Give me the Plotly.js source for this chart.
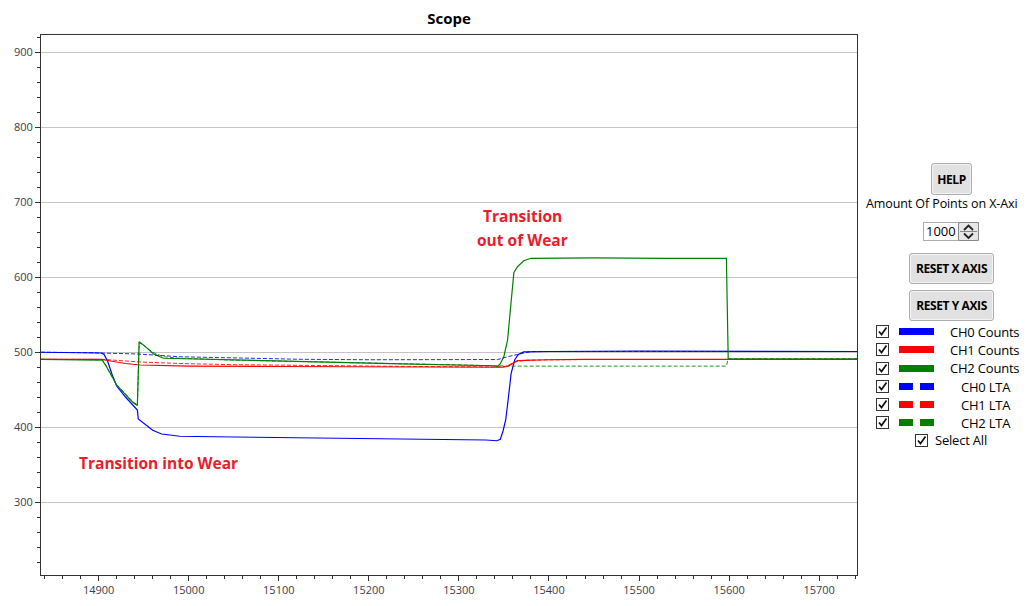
<!DOCTYPE html>
<html>
<head>
<meta charset="utf-8">
<script src="https://cdn.plot.ly/plotly-3.0.1.min.js"></script>
<style>
  html, body { margin:0; padding:0; width:1027px; height:606px; overflow:hidden; background:#fff; }
  #chart { position:absolute; left:0; top:0; width:1027px; height:606px; }
  .ui { position:absolute; font-family:"Open Sans","Noto Sans",sans-serif; color:#000; white-space:nowrap; }
  .btn { position:absolute; box-sizing:border-box; background:#e1e1e1; border:1px solid #adadad; border-radius:3px;
         box-shadow: inset 0 0 0 1px #f4f4f4; font-family:"Open Sans","Noto Sans",sans-serif; font-weight:700; font-size:12px;
         display:flex; align-items:center; justify-content:center; letter-spacing:-0.4px; color:#000; }
  .cb { position:absolute; width:13px; height:13px; box-sizing:border-box; border:1px solid #333; background:#fff; }
  .sw { position:absolute; height:7px; }
  .lbl { position:absolute; font-size:13px; line-height:16px; font-family:"Open Sans","Noto Sans",sans-serif; white-space:nowrap; letter-spacing:-0.2px; }
</style>
</head>
<body>
<div id="chart"></div>
<div id="panel"></div>
<script>
// ---- data ----
const ch0CountsX = [14836, 14870, 14872, 14903, 14906, 14910, 14915, 14920, 14930, 14940, 14943, 14944, 14950, 14960, 14970, 14990, 15050, 15125, 15200, 15280, 15330, 15342, 15346, 15349, 15352, 15355, 15358, 15362, 15366, 15372, 15400, 15500, 15742];
const ch0CountsY = [500, 500, 499, 499, 497, 488, 470, 455, 440, 428, 423, 411, 405, 396, 391, 388, 387, 386, 385.5, 384.5, 383, 382, 384, 395, 410, 440, 472, 490, 497, 500.5, 501, 501.5, 501];

const ch1CountsX = [14836, 14903, 14915, 14930, 14946, 14970, 15000, 15100, 15200, 15300, 15348, 15354, 15358, 15365, 15398, 15440, 15742];
const ch1CountsY = [490.5, 490.5, 488, 485, 483, 482, 481.5, 481, 480.5, 480, 480, 481, 483.5, 488.8, 490, 490.5, 490.5];

const ch2CountsX = [14836, 14870, 14875, 14904, 14908, 14913, 14920, 14930, 14938, 14943, 14944, 14945, 14952, 14961, 14972, 14990, 15050, 15125, 15236, 15339, 15343, 15346, 15350, 15354, 15359, 15361, 15365, 15372, 15380, 15450, 15530, 15597, 15599, 15742];
const ch2CountsY = [490.5, 490.5, 489.5, 489.5, 482, 472, 456, 443, 433, 429, 470, 514, 507.5, 497.7, 492, 491.5, 489, 486.7, 484.4, 482, 481, 484.7, 494.7, 516, 583, 606, 614, 622, 625.3, 625.8, 625.3, 625.3, 491, 491];

const ch0LtaX = [14836, 14886, 14943, 14990, 15050, 15125, 15200, 15324, 15343, 15354, 15365, 15380, 15742];
const ch0LtaY = [500, 499.5, 497.7, 494, 492.5, 490.6, 490, 489.7, 490.3, 494, 497, 501, 501];

const ch1LtaX = [14836, 14905, 14946, 14990, 15046, 15150, 15250, 15340, 15352, 15362, 15375, 15440, 15742];
const ch1LtaY = [490.5, 490.5, 487, 485, 483.5, 482, 481, 480.5, 481, 487, 489.5, 490.3, 490.5];

const ch2LtaX = [14836, 14904, 14908, 14913, 14920, 14930, 14938, 14943, 14944, 14945, 14950, 14960, 14972, 14990, 15050, 15125, 15236, 15339, 15345, 15360, 15597, 15599, 15742];
const ch2LtaY = [490.5, 490, 483, 471, 457, 444, 434, 430, 470, 513, 509, 500, 494, 492, 489.5, 487.5, 485, 482.5, 482, 481.5, 481.5, 491.5, 491.5];

const seriesNames = ["CH0 Counts", "CH1 Counts", "CH2 Counts", "CH0 LTA", "CH1 LTA", "CH2 LTA"];
const seriesColors = ["#0000ff", "#ff0000", "#008000", "#0000ff", "#ff0000", "#008000"];
const xTickLabels = ["14900", "15000", "15100", "15200", "15300", "15400", "15500", "15600", "15700"];
const yTickLabels = ["300", "400", "500", "600", "700", "800", "900"];

// ---- traces ----
const xs = [ch0CountsX, ch1CountsX, ch2CountsX, ch0LtaX, ch1LtaX, ch2LtaX];
const ys = [ch0CountsY, ch1CountsY, ch2CountsY, ch0LtaY, ch1LtaY, ch2LtaY];
const traces = xs.map((x, i) => ({
  type: "scatter", mode: "lines", x: x, y: ys[i], name: seriesNames[i],
  line: { color: seriesColors[i], width: i < 3 ? 1.2 : 1, dash: i < 3 ? "solid" : "4px,2px" },
  opacity: i < 3 ? 1 : 0.85,
  hoverinfo: "skip", showlegend: false
}));

const tickFont = { family: "Open Sans, Noto Sans, sans-serif", size: 11, color: "#3c3c4a" };
const annFont = { family: "Open Sans, Noto Sans, sans-serif", size: 15.5, color: "#e8202c" };
const layout = {
  width: 1027, height: 606,
  margin: { l: 41, r: 170, t: 35, b: 31, pad: 0 },
  paper_bgcolor: "#ffffff", plot_bgcolor: "#ffffff",
  title: { text: "<b>Scope</b>", x: 449 / 1027, xanchor: "center", y: 1 - 19 / 606, yanchor: "middle", yref: "container", xref: "container",
           font: { family: "Open Sans, Noto Sans, sans-serif", size: 15, color: "#000" } },
  xaxis: {
    range: [14836, 15742], tickmode: "array", tickvals: xTickLabels.map(Number), ticktext: xTickLabels,
    ticks: "outside", ticklen: 5, tickcolor: "#333", tickwidth: 1,
    minor: { dtick: 20, tick0: 14900, ticks: "outside", ticklen: 3, tickcolor: "#333", showgrid: false },
    showline: true, linecolor: "#333", linewidth: 1, mirror: true, showgrid: false, zeroline: false,
    tickfont: tickFont, fixedrange: true
  },
  yaxis: {
    range: [203, 923], tickmode: "array", tickvals: yTickLabels.map(Number), ticktext: yTickLabels,
    ticks: "outside", ticklen: 5, tickcolor: "#333", tickwidth: 1,
    minor: { dtick: 20, tick0: 300, ticks: "outside", ticklen: 3, tickcolor: "#333", showgrid: false },
    showline: true, linecolor: "#333", linewidth: 1, mirror: true,
    showgrid: true, gridcolor: "#c4c4c4", gridwidth: 1, zeroline: false,
    tickfont: tickFont, fixedrange: true
  },
  annotations: [
    { x: 14876, y: 352.5, xref: "x", yref: "y", xanchor: "left", yanchor: "middle", showarrow: false,
      text: "<b>Transition into Wear</b>", font: annFont },
    { x: 15370.5, y: 681.5, xref: "x", yref: "y", xanchor: "center", yanchor: "middle", showarrow: false,
      text: "<b>Transition</b>", font: annFont },
    { x: 15370.5, y: 649.5, xref: "x", yref: "y", xanchor: "center", yanchor: "middle", showarrow: false,
      text: "<b>out of Wear</b>", font: annFont }
  ]
};

Plotly.newPlot("chart", traces, layout, { displayModeBar: false, staticPlot: true });

// ---- right-hand control panel ----
const panel = document.getElementById("panel");
function add(html) { panel.insertAdjacentHTML("beforeend", html); }
add('<div class="btn" style="left:931px;top:163px;width:41px;height:32px;">HELP</div>');
add('<div class="ui" style="left:866px;top:195px;font-size:12.5px;line-height:18px;letter-spacing:-0.1px;">Amount Of Points on X-Axi</div>');
add('<div class="ui" style="left:923px;top:222px;width:56px;height:19px;box-sizing:border-box;border:1px solid #abadb3;background:#fff;"></div>');
add('<div class="ui" style="left:926px;top:221px;font-size:13px;line-height:20px;">1000</div>');
add('<div class="ui" style="left:958px;top:222px;width:21px;height:19px;box-sizing:border-box;border:1px solid #888;background:#e6e6e6;border-radius:2px;">' +
    '<svg width="19" height="17" style="position:absolute;left:0;top:0"><path d="M5 7 L9.5 2.5 L14 7" fill="none" stroke="#222" stroke-width="1.8"/>' +
    '<line x1="1" y1="8.5" x2="18" y2="8.5" stroke="#888" stroke-width="1"/><path d="M5 10.5 L9.5 15 L14 10.5" fill="none" stroke="#222" stroke-width="1.8"/></svg></div>');
add('<div class="btn" style="left:909px;top:253px;width:85px;height:31px;">RESET X AXIS</div>');
add('<div class="btn" style="left:909px;top:290px;width:85px;height:31px;">RESET Y AXIS</div>');

const check = '<svg width="11" height="11" style="position:absolute;left:0;top:0"><path d="M2 5.5 L4.5 8.5 L9.5 1.5" fill="none" stroke="#111" stroke-width="1.7"/></svg>';
const rowCenters = [331.7, 349.5, 368, 386.5, 404.5, 422.5];
seriesNames.forEach((name, i) => {
  const cy = rowCenters[i];
  add('<div class="cb" style="left:876px;top:' + (cy - 6.5) + 'px;">' + check + '</div>');
  if (i < 3) {
    add('<div class="sw" style="left:899px;top:' + (cy - 3.5) + 'px;width:35px;background:' + seriesColors[i] + ';"></div>');
    add('<div class="lbl" style="left:950px;top:' + (cy - 8) + 'px;">' + name + '</div>');
  } else {
    add('<div class="sw" style="left:899px;top:' + (cy - 3.5) + 'px;width:14px;background:' + seriesColors[i] + ';"></div>');
    add('<div class="sw" style="left:920px;top:' + (cy - 3.5) + 'px;width:14px;background:' + seriesColors[i] + ';"></div>');
    add('<div class="lbl" style="left:961px;top:' + (cy - 8) + 'px;">' + name + '</div>');
  }
});
add('<div class="cb" style="left:915px;top:433.5px;">' + check + '</div>');
add('<div class="lbl" style="left:935px;top:432px;">Select All</div>');
</script>
</body>
</html>
